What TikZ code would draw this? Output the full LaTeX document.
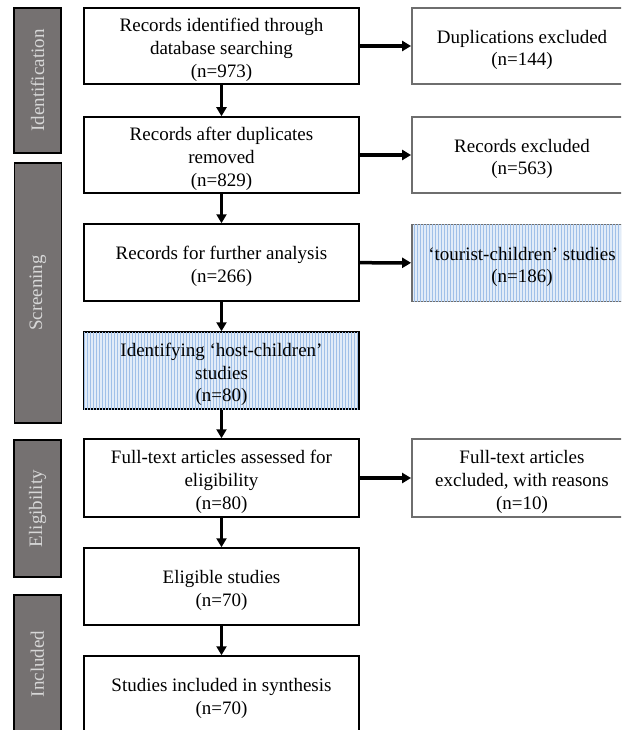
\documentclass[tikz,border=0pt]{standalone}
\usepackage{fontspec}
\setmainfont{Liberation Serif}
\usetikzlibrary{arrows.meta,patterns}
\definecolor{barfill}{RGB}{117,113,113}
\definecolor{bartext}{RGB}{215,215,215}
\definecolor{patbg}{RGB}{226,236,248}
\definecolor{patline}{RGB}{160,192,232}
\definecolor{sideline}{RGB}{110,110,110}
\newcommand\boxtext[1]{\raisebox{-4pt}[\height][\depth]{\begin{tabular}{@{}c@{}}#1\end{tabular}}}
\begin{document}
\begin{tikzpicture}[x=1pt,y=-1pt,
  txt/.style={font=\fontsize{19}{22.7}\selectfont, inner sep=0pt},
  mainbox/.style={txt, draw=black, line width=1.5pt, fill=white, minimum width=275pt},
  sidebox/.style={txt, draw=sideline, line width=1.8pt, fill=white, minimum width=220pt},
  patbox/.style={fill=patbg, postaction={pattern=vertical lines, pattern color=patline}},
  stagebar/.style={txt, rotate=90, fill=barfill, draw=black, line width=1.5pt, text=bartext, minimum height=47pt},
  flow/.style={line width=3.5pt, -{Triangle[length=9pt,width=10pt]}}
]
\useasboundingbox (0,0) rectangle (621,730);
\clip (0,0) rectangle (621,730);

% stage bars
\node[stagebar, minimum width=145pt] (sid) at (37.5,80.5) {Identification};
\node[stagebar, minimum width=260pt] (sscr) at (38,293) {Screening};
\node[stagebar, minimum width=137pt] (selg) at (37.5,508.5) {Eligibility};
\node[stagebar, minimum width=138pt] (sinc) at (37.5,664) {Included};

% main column
\node[mainbox, minimum height=76pt] (b1) at (221.5,46) {\boxtext{Records identified through\\database searching\\(n=973)}};
\node[mainbox, minimum height=76pt] (b2) at (221.5,155) {\boxtext{Records after duplicates\\removed\\(n=829)}};
\node[mainbox, minimum height=77pt] (b3) at (221.5,262.5) {\boxtext{Records for further analysis\\(n=266)}};
\node[mainbox, patbox, minimum height=77pt] (b4) at (221.5,370.5) {\boxtext{Identifying ‘host-children’\\studies\\(n=80)}};
\node[mainbox, minimum height=78pt] (b5) at (221.5,478) {\boxtext{Full-text articles assessed for\\eligibility\\(n=80)}};
\node[mainbox, minimum height=77pt] (b6) at (221.5,586.5) {\boxtext{Eligible studies\\(n=70)}};
\node[mainbox, minimum height=77pt] (b7) at (221.5,694.5) {\boxtext{Studies included in synthesis\\(n=70)}};

% side column
\node[sidebox, minimum height=76pt] (s1) at (522,46) {\boxtext{Duplications excluded\\(n=144)}};
\node[sidebox, minimum height=76pt] (s2) at (522,155) {\boxtext{Records excluded\\(n=563)}};
\node[sidebox, patbox, minimum height=77pt] (s3) at (522,263) {\boxtext{‘tourist-children’ studies\\(n=186)}};
\node[sidebox, minimum height=78pt] (s5) at (522,478) {\boxtext{Full-text articles\\excluded, with reasons\\(n=10)}};

% connectors
\draw[flow] (b1) -- (b2);
\draw[flow] (b2) -- (b3);
\draw[flow] (b3) -- (b4);
\draw[flow] (b4) -- (b5);
\draw[flow] (b5) -- (b6);
\draw[flow] (b6) -- (b7);
\draw[flow] (b1) -- (s1);
\draw[flow] (b2) -- (s2);
\draw[flow] (b3) -- (s3);
\draw[flow] (b5) -- (s5);
\end{tikzpicture}
\end{document}
